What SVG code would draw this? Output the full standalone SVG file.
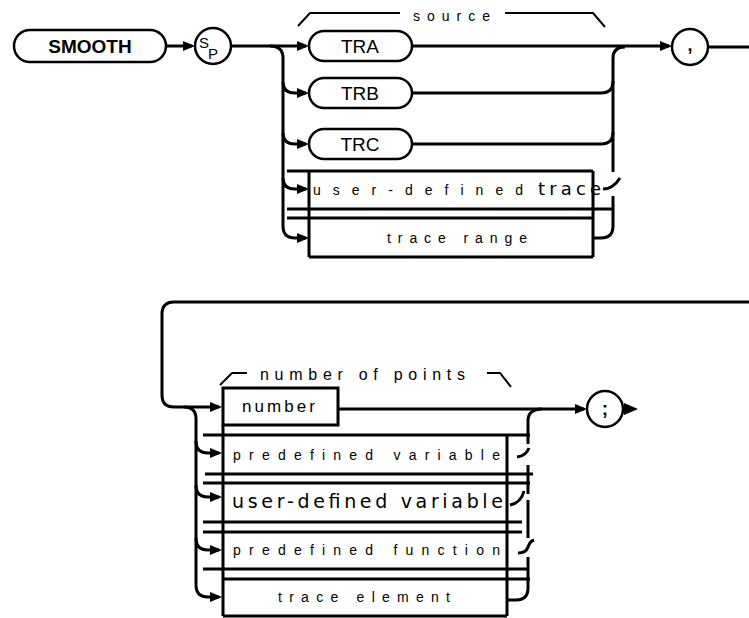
<svg xmlns="http://www.w3.org/2000/svg" width="749" height="618" viewBox="0 0 749 618">
<style>
.ln{fill:none;stroke:#000;stroke-width:3;stroke-linecap:butt;stroke-linejoin:round}
.thin{fill:none;stroke:#000;stroke-width:2}
.box{fill:none;stroke:#000;stroke-width:3}
.rbox{fill:#fff;stroke:#000;stroke-width:2.5}
.t{font-family:"Liberation Sans",Arial,sans-serif;fill:#000}
.sp{font-family:"Liberation Sans",Arial,sans-serif;font-size:14px;fill:#000}
.big{font-family:"DejaVu Sans","Liberation Sans",sans-serif;fill:#000}
</style>
<defs>
<marker id="ah" markerWidth="12" markerHeight="10" refX="9" refY="5" orient="auto" markerUnits="userSpaceOnUse">
<path d="M0,0 L12,5 L0,10 z" fill="#000"/>
</marker>
</defs>
<rect width="749" height="618" fill="#fff"/>

<g id="connectors">
<!-- top -->
<path class="ln" d="M166,46 H192" marker-end="url(#ah)"/>
<path class="ln" d="M231,46 H306" marker-end="url(#ah)"/>
<path class="ln" d="M270,46 Q283,46 283,58 V226 Q283,238 295,238 H306" marker-end="url(#ah)"/>
<path class="ln" d="M283,82 Q283,93 295,93 H306" marker-end="url(#ah)"/>
<path class="ln" d="M283,133 Q283,144 295,144 H306" marker-end="url(#ah)"/>
<path class="ln" d="M283,178 Q283,189 295,189 H306" marker-end="url(#ah)"/>
<path class="ln" d="M412,46 H669" marker-end="url(#ah)"/>
<path class="ln" d="M708,47 H749"/>
<path class="ln" d="M613,172 V58 Q613,47 625,47"/>
<path class="ln" d="M412,93 H601 Q613,93 613,81"/>
<path class="ln" d="M412,144 H601 Q613,144 613,132"/>
<path class="ln" d="M603,189 Q613,189 620,178"/>
<path class="ln" d="M613,196 V226 Q613,238 601,238 H593"/>
<!-- source bracket -->
<path class="thin" d="M298,26 L310,13 H400"/>
<path class="thin" d="M505,13 H593 L605,27"/>
<!-- bottom loop -->
<path class="ln" d="M749,302 H174 Q162,302 162,314 V395 Q162,407 174,407 H219" marker-end="url(#ah)"/>
<path class="ln" d="M184,407 Q196,407 196,419 V585 Q196,597 208,597 H219" marker-end="url(#ah)"/>
<path class="ln" d="M196,441 Q196,453 208,453 H219" marker-end="url(#ah)"/>
<path class="ln" d="M196,485 Q196,497 208,497 H219" marker-end="url(#ah)"/>
<path class="ln" d="M196,538 Q196,550 208,550 H219" marker-end="url(#ah)"/>
<path class="ln" d="M338,409 H584" marker-end="url(#ah)"/>
<polygon points="624,403 638,409 624,415" fill="#000"/>
<path class="ln" d="M542,409 Q528,409 528,421 V444"/>
<path class="ln" d="M517,457 Q526,456 529,448"/>
<path class="ln" d="M528,465 V494"/>
<path class="ln" d="M510,505 Q521,503 524,491"/>
<path class="ln" d="M528,500 V538"/>
<path class="ln" d="M518,553 Q526,553 528,547 Q530,541 534,540"/>
<path class="ln" d="M528,557 V588 Q528,600 516,600 H507"/>
<!-- number of points bracket -->
<path class="thin" d="M220,385 L232,373 H247"/>
<path class="thin" d="M487,373 H500 L511,387"/>
</g>

<g id="smooth">
<rect class="rbox" x="14" y="30" width="152" height="32" rx="16"/>
<text class="t" x="90" y="53" font-size="19" font-weight="bold" text-anchor="middle">SMOOTH</text>
</g>
<g id="sp">
<circle cx="213" cy="46" r="18" fill="#fff" stroke="#000" stroke-width="2.5"/>
<text class="t" x="199" y="48" font-size="15">S</text>
<text class="t" x="208" y="59" font-size="15">P</text>
</g>
<g id="source-label">
<text class="sp" x="413" y="21" font-size="15" textLength="77" lengthAdjust="spacing">source</text>
</g>
<g id="tra">
<rect class="rbox" x="309" y="31" width="103" height="30" rx="15"/>
<text class="t" x="360" y="53" font-size="19" text-anchor="middle">TRA</text>
</g>
<g id="trb">
<rect class="rbox" x="309" y="78" width="103" height="30" rx="15"/>
<text class="t" x="360" y="100" font-size="19" text-anchor="middle">TRB</text>
</g>
<g id="trc">
<rect class="rbox" x="309" y="129" width="103" height="30" rx="15"/>
<text class="t" x="360" y="151" font-size="19" text-anchor="middle">TRC</text>
</g>
<g id="user-defined-trace">
<path class="box" d="M287,171 H593 M309,171 V257 M593,171 V257 M287,209 H613 M287,218 H593 M309,257 H593"/>
<text class="sp" x="313" y="195" textLength="210" lengthAdjust="spacing">user-defined</text>
<text class="big" x="538" y="195" font-size="18" textLength="63" lengthAdjust="spacing">trace</text>
</g>
<g id="trace-range">
<text class="sp" x="387" y="243" textLength="140" lengthAdjust="spacing">trace range</text>
</g>
<g id="comma">
<circle cx="690" cy="47" r="18" fill="#fff" stroke="#000" stroke-width="2.5"/>
<text class="t" x="690" y="51" font-size="18" font-weight="bold" text-anchor="middle">,</text>
</g>

<g id="points-label">
<text class="t" x="260" y="380" font-size="16" textLength="205" lengthAdjust="spacing">number of points</text>
</g>
<g id="number">
<rect class="box" x="223" y="388" width="115" height="37"/>
<text class="t" x="242" y="412" font-size="17" textLength="73" lengthAdjust="spacing">number</text>
</g>
<g id="bottom-boxes">
<path class="box" d="M223,425 V616 M507,435 V616 M203,435 H530 M205,474 H533 M203,483 H530 M203,522 H522 M203,532 H522 M203,569 H528 M223,579 H530 M223,616 H507"/>
</g>
<g id="predefined-variable">
<text class="sp" x="233" y="460" textLength="267" lengthAdjust="spacing">predefined variable</text>
</g>
<g id="user-defined-variable">
<text class="big" x="232" y="508" font-size="19" textLength="271" lengthAdjust="spacing">user-defined variable</text>
</g>
<g id="predefined-function">
<text class="sp" x="233" y="555" textLength="267" lengthAdjust="spacing">predefined function</text>
</g>
<g id="trace-element">
<text class="sp" x="278" y="602" textLength="172" lengthAdjust="spacing">trace element</text>
</g>
<g id="semicolon">
<circle cx="605" cy="409" r="18" fill="#fff" stroke="#000" stroke-width="2.5"/>
<text class="t" x="605" y="415" font-size="19" font-weight="bold" text-anchor="middle">;</text>
</g>
</svg>
